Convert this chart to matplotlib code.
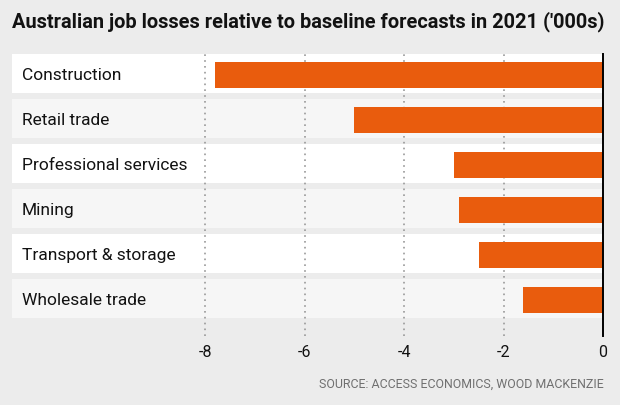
import matplotlib
matplotlib.use("Agg")
import matplotlib.pyplot as plt

# Data (thousands of jobs, relative to baseline)
categories = [
    "Construction",
    "Retail trade",
    "Professional services",
    "Mining",
    "Transport & storage",
    "Wholesale trade",
]
job_losses = [-7.8, -5.0, -3.0, -2.9, -2.5, -1.6]
tick_values = [-8, -6, -4, -2, 0]
tick_labels = ["-8", "-6", "-4", "-2", "0"]

BG = "#ececec"
ORANGE = "#e95c0d"
FONT = "Roboto"

W, H = 620, 406
fig = plt.figure(figsize=(W / 100, H / 100), dpi=100, facecolor=BG)

# axes in pixel units: left 12, right 603, top 55, bottom 337
ax = fig.add_axes([12 / W, 1 - 337 / H, (603 - 12) / W, (337 - 55) / H])
ax.set_facecolor(BG)
xmin = -11.89
ax.set_xlim(xmin, 0)
ax.set_ylim(5.833, -0.433)

n = len(categories)
ypos = list(range(n))
band_colors = ["white" if i % 2 == 0 else "#f6f6f6" for i in range(n)]

# row bands
ax.barh(ypos, [-xmin] * n, left=xmin, height=0.855, color=band_colors, zorder=1)

# gridlines
for t in tick_values[:-1]:
    ax.axvline(t, color="#999999", lw=1.2, ls=(0, (1, 2.5)), zorder=2)

bar_y = [y + 0.025 for y in ypos]
ax.barh(bar_y, job_losses, height=0.58, color=ORANGE, zorder=3)
ax.axvline(0, color="black", lw=1.4, zorder=4, clip_on=False)

for i, name in enumerate(categories):
    ax.text(xmin + 10 / 49.7, i + 0.02, name, va="center", ha="left",
            fontsize=12.5, family=FONT, color="#121212", zorder=5)

for spine in ax.spines.values():
    spine.set_visible(False)
ax.set_yticks([])
ax.set_xticks(tick_values)
ax.set_xticklabels(tick_labels, family=FONT, fontsize=11.5, color="#121212")
ax.tick_params(axis="x", length=0, pad=6)

fig.text(12 / W, 1 - 22 / H, "Australian job losses relative to baseline forecasts in 2021 ('000s)",
         ha="left", va="center", fontsize=14.4, fontweight="bold", family=FONT,
         color="#121212")
fig.text(604 / W, 1 - 384 / H, "SOURCE: ACCESS ECONOMICS, WOOD MACKENZIE",
         ha="right", va="center", fontsize=8.9, family=FONT, color="#707070")

fig.savefig("out.png", dpi=100, facecolor=BG)
